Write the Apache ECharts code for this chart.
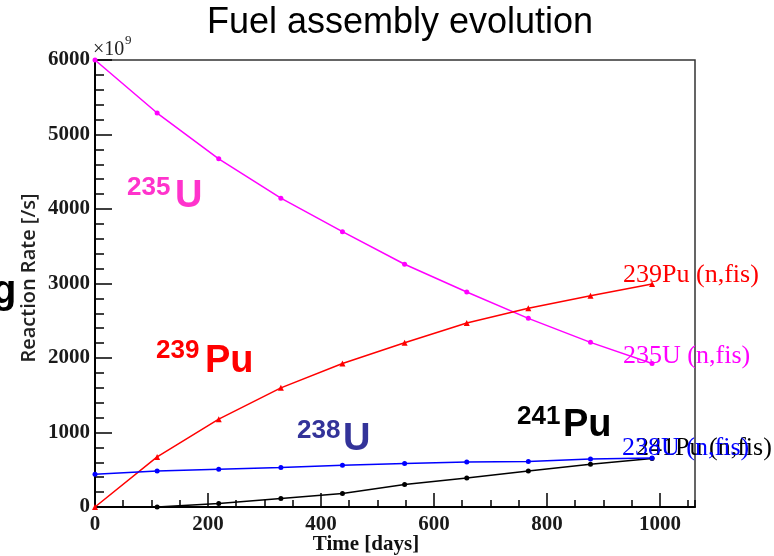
<!DOCTYPE html>
<html><head><meta charset="utf-8">
<script src="https://cdn.jsdelivr.net/npm/echarts@6/dist/echarts.min.js"></script>
<style>html,body{margin:0;padding:0;background:#fff}#c{width:774px;height:556px}</style>
</head><body><div id="c"></div>
<script>
// ---- data ----
const days  = [0, 110, 219, 329, 438, 548, 658, 767, 877, 986];
const u235  = [6000, 5288, 4673, 4145, 3696, 3258, 2886, 2532, 2210, 1927];
const pu239 = [0, 672, 1179, 1599, 1927, 2204, 2469, 2667, 2836, 2993];
const u238  = [440, 484, 507, 530, 560, 583, 605, 612, 645, 658];
const pu241 = [null, 0, 46, 113, 180, 301, 390, 484, 574, 652];
const seriesNames = ['235U (n,fis)', '239Pu (n,fis)', '238U (n,fis)', '241Pu (n,fis)'];
const isoSup  = ['235', '239', '238', '241'];
const isoMain = ['U', 'Pu', 'U', 'Pu'];
const titleText = 'Fuel assembly evolution';
const yTitle = 'Reaction Rate [/s]';
const xTitle = 'Time [days]';
const yScaleText = '\u00d710';
const yScaleExp = '9';

function pairs(vals) {
  const out = [];
  days.forEach((d, i) => { if (vals[i] !== null) out.push([d, vals[i]]); });
  return out;
}

const serif = '"Liberation Serif", "Times New Roman", serif';
const sans = '"Liberation Sans", Arial, sans-serif';

function lineSeries(name, vals, color, symbol, labelOffset) {
  return {
    type: 'line', name: name, data: pairs(vals),
    symbol: symbol, symbolSize: symbol === 'triangle' ? 6 : 5,
    lineStyle: { color: color, width: 1.5 },
    itemStyle: { color: color },
    clip: false,
    endLabel: {
      show: true, formatter: name, color: color,
      fontFamily: serif, fontSize: 26, distance: 0, offset: labelOffset
    }
  };
}

// annotation layout (not data)
const isoColors = ['#ff33cc', '#ff0000', '#333399', '#000000'];
const isoPos = [
  { sx: 127, sy: 188, mx: 175, my: 197 },
  { sx: 156, sy: 351, mx: 205, my: 362 },
  { sx: 297, sy: 431, mx: 343, my: 440 },
  { sx: 517, sy: 417, mx: 563, my: 426 }
];
const graphics = [];
isoSup.forEach((s, i) => {
  const p = isoPos[i];
  graphics.push({ type: 'text', x: p.sx, y: p.sy, style: { text: s, fill: isoColors[i],
    font: 'bold 26px ' + sans, textAlign: 'left', textVerticalAlign: 'middle' } });
  graphics.push({ type: 'text', x: p.mx, y: p.my, style: { text: isoMain[i], fill: isoColors[i],
    font: 'bold 38px ' + sans, textAlign: 'left', textVerticalAlign: 'middle' } });
});
graphics.push({ type: 'text', x: 400, y: 23, style: { text: titleText, fill: '#000',
  font: '36px ' + sans, textAlign: 'center', textVerticalAlign: 'middle' } });
graphics.push({ type: 'text', x: 29, y: 278, rotation: Math.PI / 2, style: { text: yTitle, fill: '#222',
  font: '600 20px "Open Sans", sans-serif', textAlign: 'center', textVerticalAlign: 'middle' } });
graphics.push({ type: 'text', x: 366, y: 545, style: { text: xTitle, fill: '#111',
  font: 'bold 21px ' + serif, textAlign: 'center', textVerticalAlign: 'middle' } });
graphics.push({ type: 'text', x: 93, y: 50, style: { text: yScaleText, fill: '#222',
  font: '20px ' + serif, textAlign: 'left', textVerticalAlign: 'middle' } });
graphics.push({ type: 'text', x: 125, y: 41, style: { text: yScaleExp, fill: '#222',
  font: '13px ' + serif, textAlign: 'left', textVerticalAlign: 'middle' } });
graphics.push({ type: 'text', x: -8, y: 292, style: { text: 'g', fill: '#000',
  font: 'bold 40px ' + sans, textAlign: 'left', textVerticalAlign: 'middle' } });

const tickLabel = { fontFamily: serif, fontWeight: 'bold', fontSize: 21, color: '#1a1a1a',
  formatter: v => String(v) };

const option = {
  animation: false,
  backgroundColor: '#fff',
  grid: { left: 95, right: 79, top: 60, bottom: 49, show: true, borderColor: '#333', borderWidth: 1.5,
          containLabel: false, outerBoundsMode: 'none' },
  xAxis: [
    { type: 'value', min: 0, max: 1062, interval: 200,
      axisLine: { lineStyle: { color: '#000', width: 2 } },
      axisTick: { inside: true, length: 14, lineStyle: { color: '#000', width: 1.5 } },
      axisLabel: Object.assign({ margin: 7, showMaxLabel: false }, tickLabel),
      splitLine: { show: false } },
    { type: 'value', position: 'bottom', min: 0, max: 1062, interval: 50,
      axisLine: { show: false },
      axisTick: { inside: true, length: 7, lineStyle: { color: '#000', width: 1.5 } },
      axisLabel: { show: false }, splitLine: { show: false } }
  ],
  yAxis: { type: 'value', min: 0, max: 6000, interval: 1000,
    axisLine: { lineStyle: { color: '#000', width: 2 } },
    axisTick: { inside: true, length: 17, lineStyle: { color: '#000', width: 1.5 } },
    minorTick: { show: true, splitNumber: 5, length: 9, lineStyle: { color: '#000', width: 1.5 } },
    axisLabel: Object.assign({ margin: 5 }, tickLabel),
    splitLine: { show: false } },
  series: [
    lineSeries(seriesNames[0], u235, '#ff00ff', 'circle', [-29, -7]),
    lineSeries(seriesNames[1], pu239, '#ff0000', 'triangle', [-29, -9]),
    lineSeries(seriesNames[3], pu241, '#000000', 'circle', [-16, -10]),
    lineSeries(seriesNames[2], u238, '#0000ff', 'circle', [-30, -10])
  ],
  graphic: graphics
};

const chart = echarts.init(document.getElementById('c'), null, { renderer: 'canvas' });
chart.setOption(option);
</script></body></html>
